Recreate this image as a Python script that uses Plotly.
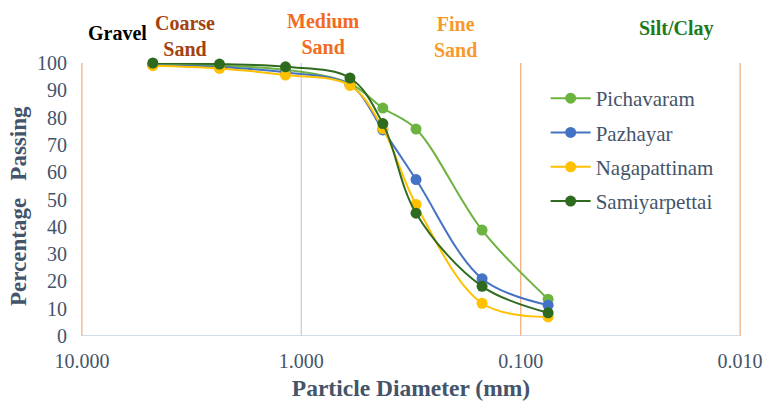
import plotly.graph_objects as go

# Sieve sizes (mm) and percentage passing for each sampling station
sieve_mm = [4.75, 2.36, 1.18, 0.6, 0.425, 0.3, 0.15, 0.075]
pichavaram = [99.5, 99.0, 97.5, 92.5, 83.5, 75.8, 38.8, 13.5]
pazhayar = [99.2, 98.5, 96.5, 92.0, 75.5, 57.3, 21.0, 11.3]
nagapattinam = [99.0, 98.0, 95.6, 91.8, 76.0, 48.2, 12.0, 7.0]
samiyarpettai = [100.0, 99.6, 98.6, 94.5, 77.8, 45.0, 18.2, 8.5]

station_names = ["Pichavaram", "Pazhayar", "Nagapattinam", "Samiyarpettai"]
station_values = [pichavaram, pazhayar, nagapattinam, samiyarpettai]
station_colors = ["#6DB33F", "#4472C4", "#FFC000", "#2F6B1E"]

x_tick_vals = [10, 1, 0.1, 0.01]
x_tick_text = ["10.000", "1.000", "0.100", "0.010"]
y_tick_vals = list(range(0, 101, 10))

# Soil class zones written above the plot
zone_labels = ["Gravel", "Coarse<br>Sand", "Medium<br>Sand", "Fine<br>Sand", "Silt/Clay"]
zone_colors = ["#000000", "#A3420E", "#F26B21", "#F79A2B", "#1C7A1C"]
zone_x = [0.056, 0.158, 0.367, 0.568, 0.902]
zone_y = [1.11, 1.099, 1.108, 1.095, 1.125]

SERIF = "Liberation Serif"
TEXT = "#44546A"
ORANGE = "#F4B183"
GRID = "#C5D1E3"

fig = go.Figure()
for i, (name, vals, col) in enumerate(zip(station_names, station_values, station_colors)):
    fig.add_trace(go.Scatter(
        x=sieve_mm, y=vals, name=name, mode="lines+markers",
        line=dict(color=col, width=2, shape="spline", smoothing=1),
        marker=dict(color=col, size=11),
        legendgroup=f"g{i}", cliponaxis=False,
    ))

# Class boundaries and frame lines
for xv, col in [(1, GRID), (0.1, ORANGE), (0.01, ORANGE)]:
    fig.add_shape(type="line", xref="x", yref="y", x0=xv, x1=xv, y0=0,
                  y1=102.5 if col == ORANGE else 100, line=dict(color=col, width=1.3),
                  layer="below")
fig.add_shape(type="line", xref="x", yref="y", x0=10, x1=10, y0=0, y1=100,
              line=dict(color=ORANGE, width=1.3), layer="below")
fig.add_shape(type="line", xref="x", yref="y", x0=10, x1=0.01, y0=0, y1=0,
              line=dict(color=GRID, width=1.3), layer="below")

for txt, col, xp, yp in zip(zone_labels, zone_colors, zone_x, zone_y):
    fig.add_annotation(text=f"<b>{txt}</b>", x=xp, y=yp, xref="paper", yref="paper",
                       showarrow=False, font=dict(family=SERIF, size=20, color=col),
                       xanchor="center", yanchor="middle")

# Vertical y-axis caption
fig.add_annotation(text="<b>Percentage\u00a0\u00a0 Passing</b>", x=-0.0955, y=0.476,
                   xref="paper", yref="paper", showarrow=False, textangle=-90,
                   font=dict(family=SERIF, size=23, color=TEXT),
                   xanchor="center", yanchor="middle")

fig.update_layout(
    width=764, height=403,
    margin=dict(l=81, r=23, t=63, b=67, autoexpand=False),
    paper_bgcolor="white", plot_bgcolor="white",
    font=dict(family=SERIF, color=TEXT),
    legend=dict(x=0.704, y=0.945, xanchor="left", yanchor="top",
                font=dict(family=SERIF, size=21, color=TEXT),
                tracegroupgap=4, traceorder="grouped",
                bgcolor="rgba(0,0,0,0)", itemwidth=40),
    xaxis=dict(type="log", range=[1.004, -2.004], showgrid=False, zeroline=False,
               showline=False, tickvals=x_tick_vals, ticktext=x_tick_text,
               ticks="", ticklabelstandoff=11, ticklabeloverflow="allow",
               automargin=False,
               tickfont=dict(family=SERIF, size=20, color=TEXT),
               title=dict(text="<b>Particle Diameter (mm)</b>", standoff=8,
                          font=dict(family=SERIF, size=23.5, color=TEXT))),
    yaxis=dict(range=[0, 100], showgrid=False, zeroline=False, showline=False,
               tickvals=y_tick_vals, ticks="", ticklabelstandoff=13,
               automargin=False,
               tickfont=dict(family=SERIF, size=20, color=TEXT)),
)

fig.write_html("out.html")
